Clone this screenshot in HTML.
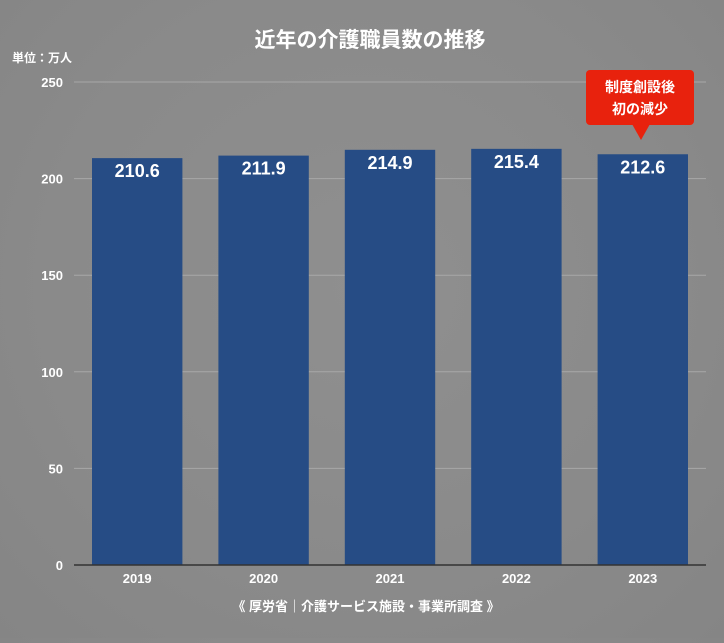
<!DOCTYPE html>
<html><head><meta charset="utf-8"><style>
html,body{margin:0;padding:0}
body{width:724px;height:638px;overflow:hidden;background:radial-gradient(ellipse at 50% 45%,#8f8f8f 0%,#8a8a8a 60%,#858585 100%);font-family:"Liberation Sans","Noto Sans CJK JP",sans-serif}
</style></head><body>
<svg id="chart" width="724" height="638" xmlns="http://www.w3.org/2000/svg" style="font-family:'Liberation Sans','Noto Sans CJK JP',sans-serif">
<text x="370" y="47" text-anchor="middle" fill="#fff" font-size="21" font-weight="bold">近年の介護職員数の推移</text>
<text x="12" y="62" fill="#fff" font-size="12" font-weight="bold">単位：万人</text>
<g id="grid"></g><g id="bars"></g><g id="xlabels"></g>
<g>
<rect x="586" y="70" width="108" height="55" rx="4" fill="#e8220d"/>
<polygon points="632,124 650,124 641,140" fill="#e8220d"/>
<text x="640" y="92" text-anchor="middle" fill="#fff" font-size="14" font-weight="bold">制度創設後</text>
<text x="640" y="114" text-anchor="middle" fill="#fff" font-size="14" font-weight="bold">初の減少</text>
</g>
<text x="366" y="611" text-anchor="middle" fill="#fff" font-size="13" font-weight="bold">《 厚労省｜介護サービス施設・事業所調査 》</text>
</svg>
<script>
const categories=["2019","2020","2021","2022","2023"];
const values=[210.6,211.9,214.9,215.4,212.6];
const valueLabels=["210.6","211.9","214.9","215.4","212.6"];
const yTicks=[0,50,100,150,200,250];
const NS="http://www.w3.org/2000/svg";
const x0=74,x1=706,yb=565,yt=82,ymax=250;
const y=v=>yb-(yb-yt)*v/ymax;
const slot=(x1-x0)/categories.length;
const xs=i=>x0+slot*i;
function mk(t,a,p){const e=document.createElementNS(NS,t);for(const k in a)e.setAttribute(k,a[k]);p.appendChild(e);return e;}
const grid=document.getElementById('grid');
yTicks.forEach(t=>{
 if(t>0){const l=mk('line',{x1:x0,x2:x1,y1:y(t),y2:y(t),stroke:'#a8a8a8','stroke-width':1},grid);
 
 }
 const tx=mk('text',{x:63,y:y(t)+5,'text-anchor':'end',fill:'#fff','font-size':13,'font-weight':'bold'},grid);
 tx.textContent=t;
 
 
});
const bars=document.getElementById('bars');
values.forEach((v,i)=>{
 const r=mk('rect',{x:xs(i)+18,y:y(v),width:slot-36,height:yb-y(v),fill:'#264c85'},bars);
 
 
 const t=mk('text',{x:xs(i)+slot/2,y:y(v)+19,'text-anchor':'middle',fill:'#fff','font-size':18,'font-weight':'bold'},bars);
 t.textContent=valueLabels[i];
 
 
 const c=mk('text',{x:xs(i)+slot/2,y:583,'text-anchor':'middle',fill:'#fff','font-size':13,'font-weight':'bold'},document.getElementById('xlabels'));
 c.textContent=categories[i];
 
 
});
const ax=mk('line',{x1:x0,x2:x1,y1:yb,y2:yb,stroke:'#333','stroke-width':1.5},bars);


</script>
</body></html>
